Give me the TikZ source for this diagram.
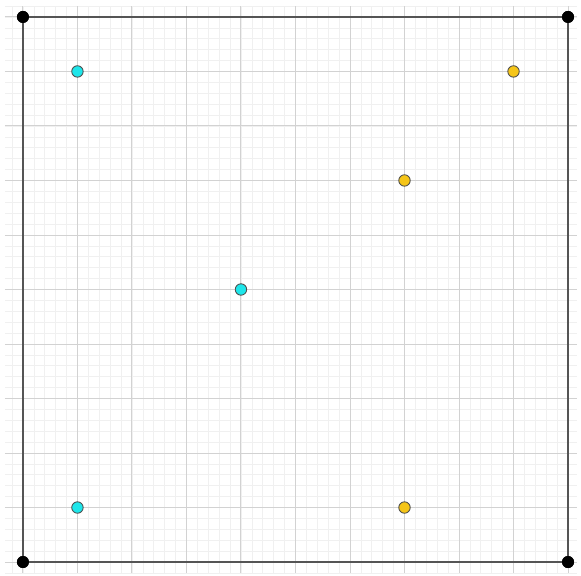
\documentclass[tikz,border=0pt]{standalone}
\usepackage{tikz}
\usetikzlibrary{positioning}
\definecolor{Aqua}{HTML}{1EE6EA}
\definecolor{Gold}{HTML}{F5C518}
\definecolor{Frame}{HTML}{555555}

\begin{document}
\begin{tikzpicture}[
    corner/.style={circle,fill=black,inner sep=0pt,minimum size=2.2mm},
    pt/.style={circle,draw=black!70,line width=0.45pt,inner sep=0pt,minimum size=2.1mm},
    minorgrid/.style={gray!12,line width=0.35pt},
    majorgrid/.style={gray!35,line width=0.5pt},
    frame/.style={Frame,line width=1.3pt}
  ]
    \useasboundingbox (-0.421,-0.256) rectangle (10.238,10.311);
    \draw[minorgrid,step=0.2] (-0.33,-0.2) grid (10.17,10.2);
    \draw[majorgrid,step=1] (-0.33,-0.2) grid (10.17,10.2);
    % corners of the square
    \node[corner] (sw) at (0,0) {};
    \node[corner] (se) at (10,0) {};
    \node[corner] (ne) at (10,10) {};
    \node[corner] (nw) at (0,10) {};
    \draw[frame] (sw.center)--(se.center)--(ne.center)--(nw.center)--cycle;
    \foreach \c in {sw,se,ne,nw} \node[corner] at (\c) {};
    % first set
    \node[pt,fill=Aqua] (a1) at (1,9) {};
    \node[pt,fill=Aqua] (a2) at (4,5) {};
    \node[pt,fill=Aqua] (a3) at (1,1) {};
    % second set
    \node[pt,fill=Gold] (b1) at (9,9) {};
    \node[pt,fill=Gold] (b2) at (7,7) {};
    \node[pt,fill=Gold] (b3) at (7,1) {};
  \end{tikzpicture}
\end{document}
